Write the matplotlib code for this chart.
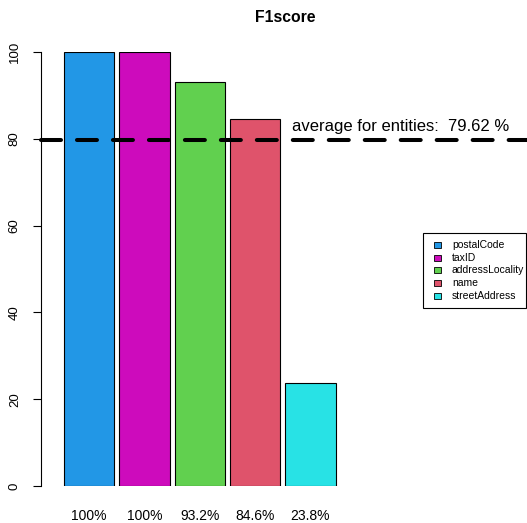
import matplotlib
matplotlib.use("Agg")
import matplotlib.pyplot as plt
from matplotlib.patches import Rectangle

categories = ["postalCode", "taxID", "addressLocality", "name", "streetAddress"]
values = [100, 100, 93.2, 84.6, 23.8]
labels = ["100%", "100%", "93.2%", "84.6%", "23.8%"]
colors = ["#2297E6", "#CD0BBC", "#61D04F", "#DF536B", "#28E2E5"]
average = 79.62
yticks = [0, 20, 40, 60, 80, 100]

W, H = 527, 523
plt.rcParams['font.family'] = ['Liberation Sans', 'DejaVu Sans']
fig = plt.figure(figsize=(W / 100, H / 100), dpi=100)

left, right, bottom, top = 41, 527, 486, 52
ax = fig.add_axes([left / W, (H - bottom) / H, (right - left) / W, (bottom - top) / H])
unit = 50.3
x0 = 59
ax.set_xlim((left - x0) / unit, (right - x0) / unit)
ax.set_ylim(0, 100)

centers = [0.6 + 1.1 * i for i in range(len(values))]
ax.bar(centers, values, width=1.0, color=colors, edgecolor="black", linewidth=0.8, zorder=2)

for s in ["top", "right", "bottom"]:
    ax.spines[s].set_visible(False)
ax.spines["left"].set_linewidth(0.8)
ax.spines["left"].set_bounds(0, 100)
ax.set_xticks([])
ax.set_yticks(yticks)
ax.set_yticklabels([str(t) for t in yticks], rotation=90, va="center", fontsize=9.5)
ax.tick_params(axis="y", length=6, width=0.8, pad=8.5)

# average line
lw = 2.9
ax.axhline(average, xmin=(41 - left) / (right - left), xmax=1.0, color="black",
           lw=lw, ls=(0, (14.4 / lw, 11.5 / lw)), zorder=3, clip_on=False,
           dash_capstyle="round")
ax.text((292 - x0) / unit, average + 1.6, "average for entities:  79.62 %",
        fontsize=12, ha="left", va="bottom")

# labels under bars
for c, lab in zip(centers, labels):
    ax.text(c, -6.9, lab, ha="center", va="center", fontsize=10, clip_on=False)

fig.text(285 / W, (H - 18) / H, "F1score", ha="center", va="center",
         fontsize=11.3, fontweight="bold")

# legend (R style box)
fig.patches.append(Rectangle((423 / W, (H - 308) / H), 103 / W, 75 / H,
                             transform=fig.transFigure, facecolor="white",
                             edgecolor="black", linewidth=0.8))
ys = [245, 257.7, 270.4, 283, 295.7]
for yc, col, cat in zip(ys, colors, categories):
    fig.patches.append(Rectangle((434 / W, (H - yc - 3) / H), 7 / W, 6 / H,
                                 transform=fig.transFigure, facecolor=col,
                                 edgecolor="black", linewidth=0.6))
    fig.text(452 / W, (H - yc) / H, cat, ha="left", va="center", fontsize=7.5)

fig.savefig("out.png", dpi=100)
